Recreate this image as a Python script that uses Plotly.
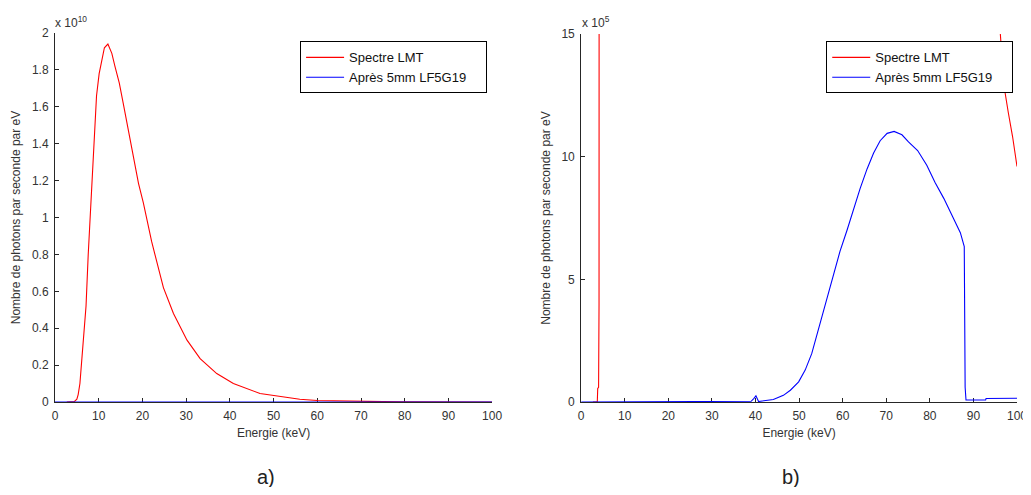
import plotly.graph_objects as go

# ---------------- data ----------------
energy_lmt = [2.7, 3.7, 3.8, 4.0, 4.1, 4.4, 5.0, 5.3, 5.7, 6.5, 7.1, 7.6, 8.2, 8.8, 9.2,
              9.5, 10.1, 10.7, 11.3, 12.1, 13.0, 13.7, 14.7, 15.6, 16.8, 17.9, 19.1,
              20.2, 22.1, 24.8, 27.1, 30.2, 33.2, 37.0, 40.8, 46.9, 52.3, 56.0, 60.0,
              65.0, 70.0, 75.0, 80.0, 85.0, 90.0, 95.0, 96.2, 97.0, 98.0, 99.0, 100.0]
spectre_lmt = [0, 0, 0.55e5, 0.6e5, 3.95e5, 2e7, 1.5e8, 4e8, 1.0e9, 3.35e9, 5.2e9, 8.0e9,
               1.095e10, 1.38e10, 1.51e10, 1.66e10, 1.78e10, 1.855e10, 1.92e10, 1.94e10,
               1.89e10, 1.82e10, 1.73e10, 1.62e10, 1.475e10, 1.33e10, 1.185e10,
               1.08e10, 0.87e10, 0.62e10, 0.48e10, 0.335e10, 0.235e10, 0.154e10,
               0.10e10, 0.046e10, 0.027e10, 0.015e10, 0.008e10,
               5e7, 3e7, 1.8e7, 1e7, 6e6, 3.5e6, 1.8e6, 1.5e6, 1.29e6, 1.18e6, 1.08e6, 0.96e6]

energy_lf = [0, 24.0, 24.1, 39.0, 39.6, 40.1, 40.7, 44.1, 46.4, 48.0, 49.9, 51.4, 52.9,
             54.1, 55.6, 56.8, 57.9, 59.4, 61.0, 62.5, 64.0, 65.6, 67.1, 68.6, 70.2,
             71.8, 73.6, 75.1, 77.2, 79.3, 81.2, 83.2, 85.1, 87.0, 87.9, 88.1, 88.3,
             92.8, 92.9, 100.0]
apres_lf5g19 = [0, 0, 0.03e5, 0.03e5, 0.14e5, 0.25e5, 0.02e5, 0.1e5, 0.27e5, 0.48e5, 0.82e5,
                1.3e5, 1.97e5, 2.75e5, 3.65e5, 4.45e5, 5.2e5, 6.15e5, 7.0e5, 7.85e5, 8.7e5,
                9.5e5, 10.15e5, 10.65e5, 10.95e5, 11.03e5, 10.89e5, 10.6e5, 10.25e5,
                9.65e5, 8.95e5, 8.3e5, 7.6e5, 6.9e5, 6.33e5, 0.6e5, 0.08e5,
                0.08e5, 0.14e5, 0.15e5]

x_ticks = [0, 10, 20, 30, 40, 50, 60, 70, 80, 90, 100]
left_y_ticks = [0, 0.2e10, 0.4e10, 0.6e10, 0.8e10, 1.0e10, 1.2e10, 1.4e10, 1.6e10, 1.8e10, 2.0e10]
left_y_text = ["0", "0.2", "0.4", "0.6", "0.8", "1", "1.2", "1.4", "1.6", "1.8", "2"]
right_y_ticks = [0, 5e5, 10e5, 15e5]
right_y_text = ["0", "5", "10", "15"]

name_lmt = "Spectre LMT"
name_lf = "Après 5mm LF5G19"
x_title = "Energie (keV)"
y_title = "Nombre de photons par seconde par eV"

# ---------------- figure ----------------
# The page body has an 8px margin: the figure is offset by 8px inside the window.
OFF = 8
W, H = 1031 - OFF, 495 - 2 * OFF
ML = 55 - OFF
MT = 33.3 - OFF
MB = H - (401.7 - OFF)
MR = W - (1016.7 - OFF)
PW = W - ML - MR
PH = H - MT - MB


def px2x(px):
    """window pixel x -> paper x"""
    return (px - OFF - ML) / PW


def py2y(py):
    """window pixel y -> paper y"""
    return (H - MB - (py - OFF)) / PH


FONT = "Liberation Sans, Arial, Helvetica, sans-serif"
TXT = "#333333"
AX = "#262626"
PAD = "\u00a0" * 4  # right padding inside the legend box

fig = go.Figure()
for xa, ya, lg in [("x", "y", "legend"), ("x2", "y2", "legend2")]:
    fig.add_trace(go.Scatter(x=energy_lmt, y=spectre_lmt, mode="lines", name=name_lmt + PAD,
                             line=dict(color="#ff0000", width=1.1), xaxis=xa, yaxis=ya,
                             legend=lg))
    fig.add_trace(go.Scatter(x=energy_lf, y=apres_lf5g19, mode="lines", name=name_lf + PAD,
                             line=dict(color="#0000ff", width=1.1), xaxis=xa, yaxis=ya,
                             legend=lg))


def xaxis_cfg(domain):
    return dict(domain=domain, range=[0, 100], tickvals=x_ticks, ticks="inside",
                ticklen=4, tickcolor=AX, tickwidth=1, showline=True, linecolor=AX,
                linewidth=1, showgrid=False, zeroline=False, layer="below traces",
                tickfont=dict(family=FONT, size=12, color=TXT), automargin=False,
                tickangle=0, ticklabelstandoff=3, ticklabeloverflow="allow",
                title=dict(text=x_title, font=dict(family=FONT, size=12, color=TXT),
                           standoff=6))


def yaxis_cfg(domain, rng, vals, texts, anchor):
    return dict(domain=domain, range=rng, tickvals=vals, ticktext=texts, ticks="inside",
                ticklen=4, tickcolor=AX, tickwidth=1, showline=True, linecolor=AX,
                linewidth=1, showgrid=False, zeroline=False, layer="below traces",
                tickfont=dict(family=FONT, size=12, color=TXT), automargin=False,
                anchor=anchor, ticklabelstandoff=3, ticklabeloverflow="allow",
                title=dict(text=y_title, font=dict(family=FONT, size=12, color=TXT),
                           standoff=8))


left_dom = [0, px2x(492)]
right_dom = [px2x(581), 1]

legend_common = dict(xanchor="left", yanchor="top", bgcolor="white", bordercolor="#000000",
                     borderwidth=1, font=dict(family=FONT, size=13, color="#111111"),
                     tracegroupgap=0, itemwidth=38)

fig.update_layout(
    width=W, height=H,
    margin=dict(l=ML, r=MR, t=MT, b=MB),
    paper_bgcolor="white", plot_bgcolor="white",
    showlegend=True,
    xaxis=xaxis_cfg(left_dom) | dict(anchor="y"),
    yaxis=yaxis_cfg([0, 1], [0, 2e10], left_y_ticks, left_y_text, "x"),
    xaxis2=xaxis_cfg(right_dom) | dict(anchor="y2"),
    yaxis2=yaxis_cfg([0, py2y(34.3)], [0, 15e5], right_y_ticks, right_y_text, "x2"),
    legend=dict(x=px2x(300), y=py2y(41.7), **legend_common),
    legend2=dict(x=px2x(826), y=py2y(41.7), **legend_common),
)

for text, px in [("x 10<sup>10</sup>", 53), ("x 10<sup>5</sup>", 580)]:
    fig.add_annotation(text=text, x=px2x(px), y=py2y(22), xref="paper", yref="paper",
                       xanchor="left", yanchor="middle", showarrow=False,
                       font=dict(family=FONT, size=12, color=TXT))

for lab, cx in [("a)", 266), ("b)", 791)]:
    fig.add_annotation(text=lab, x=px2x(cx), y=py2y(477), xref="paper", yref="paper",
                       xanchor="center", yanchor="middle", showarrow=False,
                       font=dict(family=FONT, size=20, color="#222222"))

fig.write_html("out.html")
